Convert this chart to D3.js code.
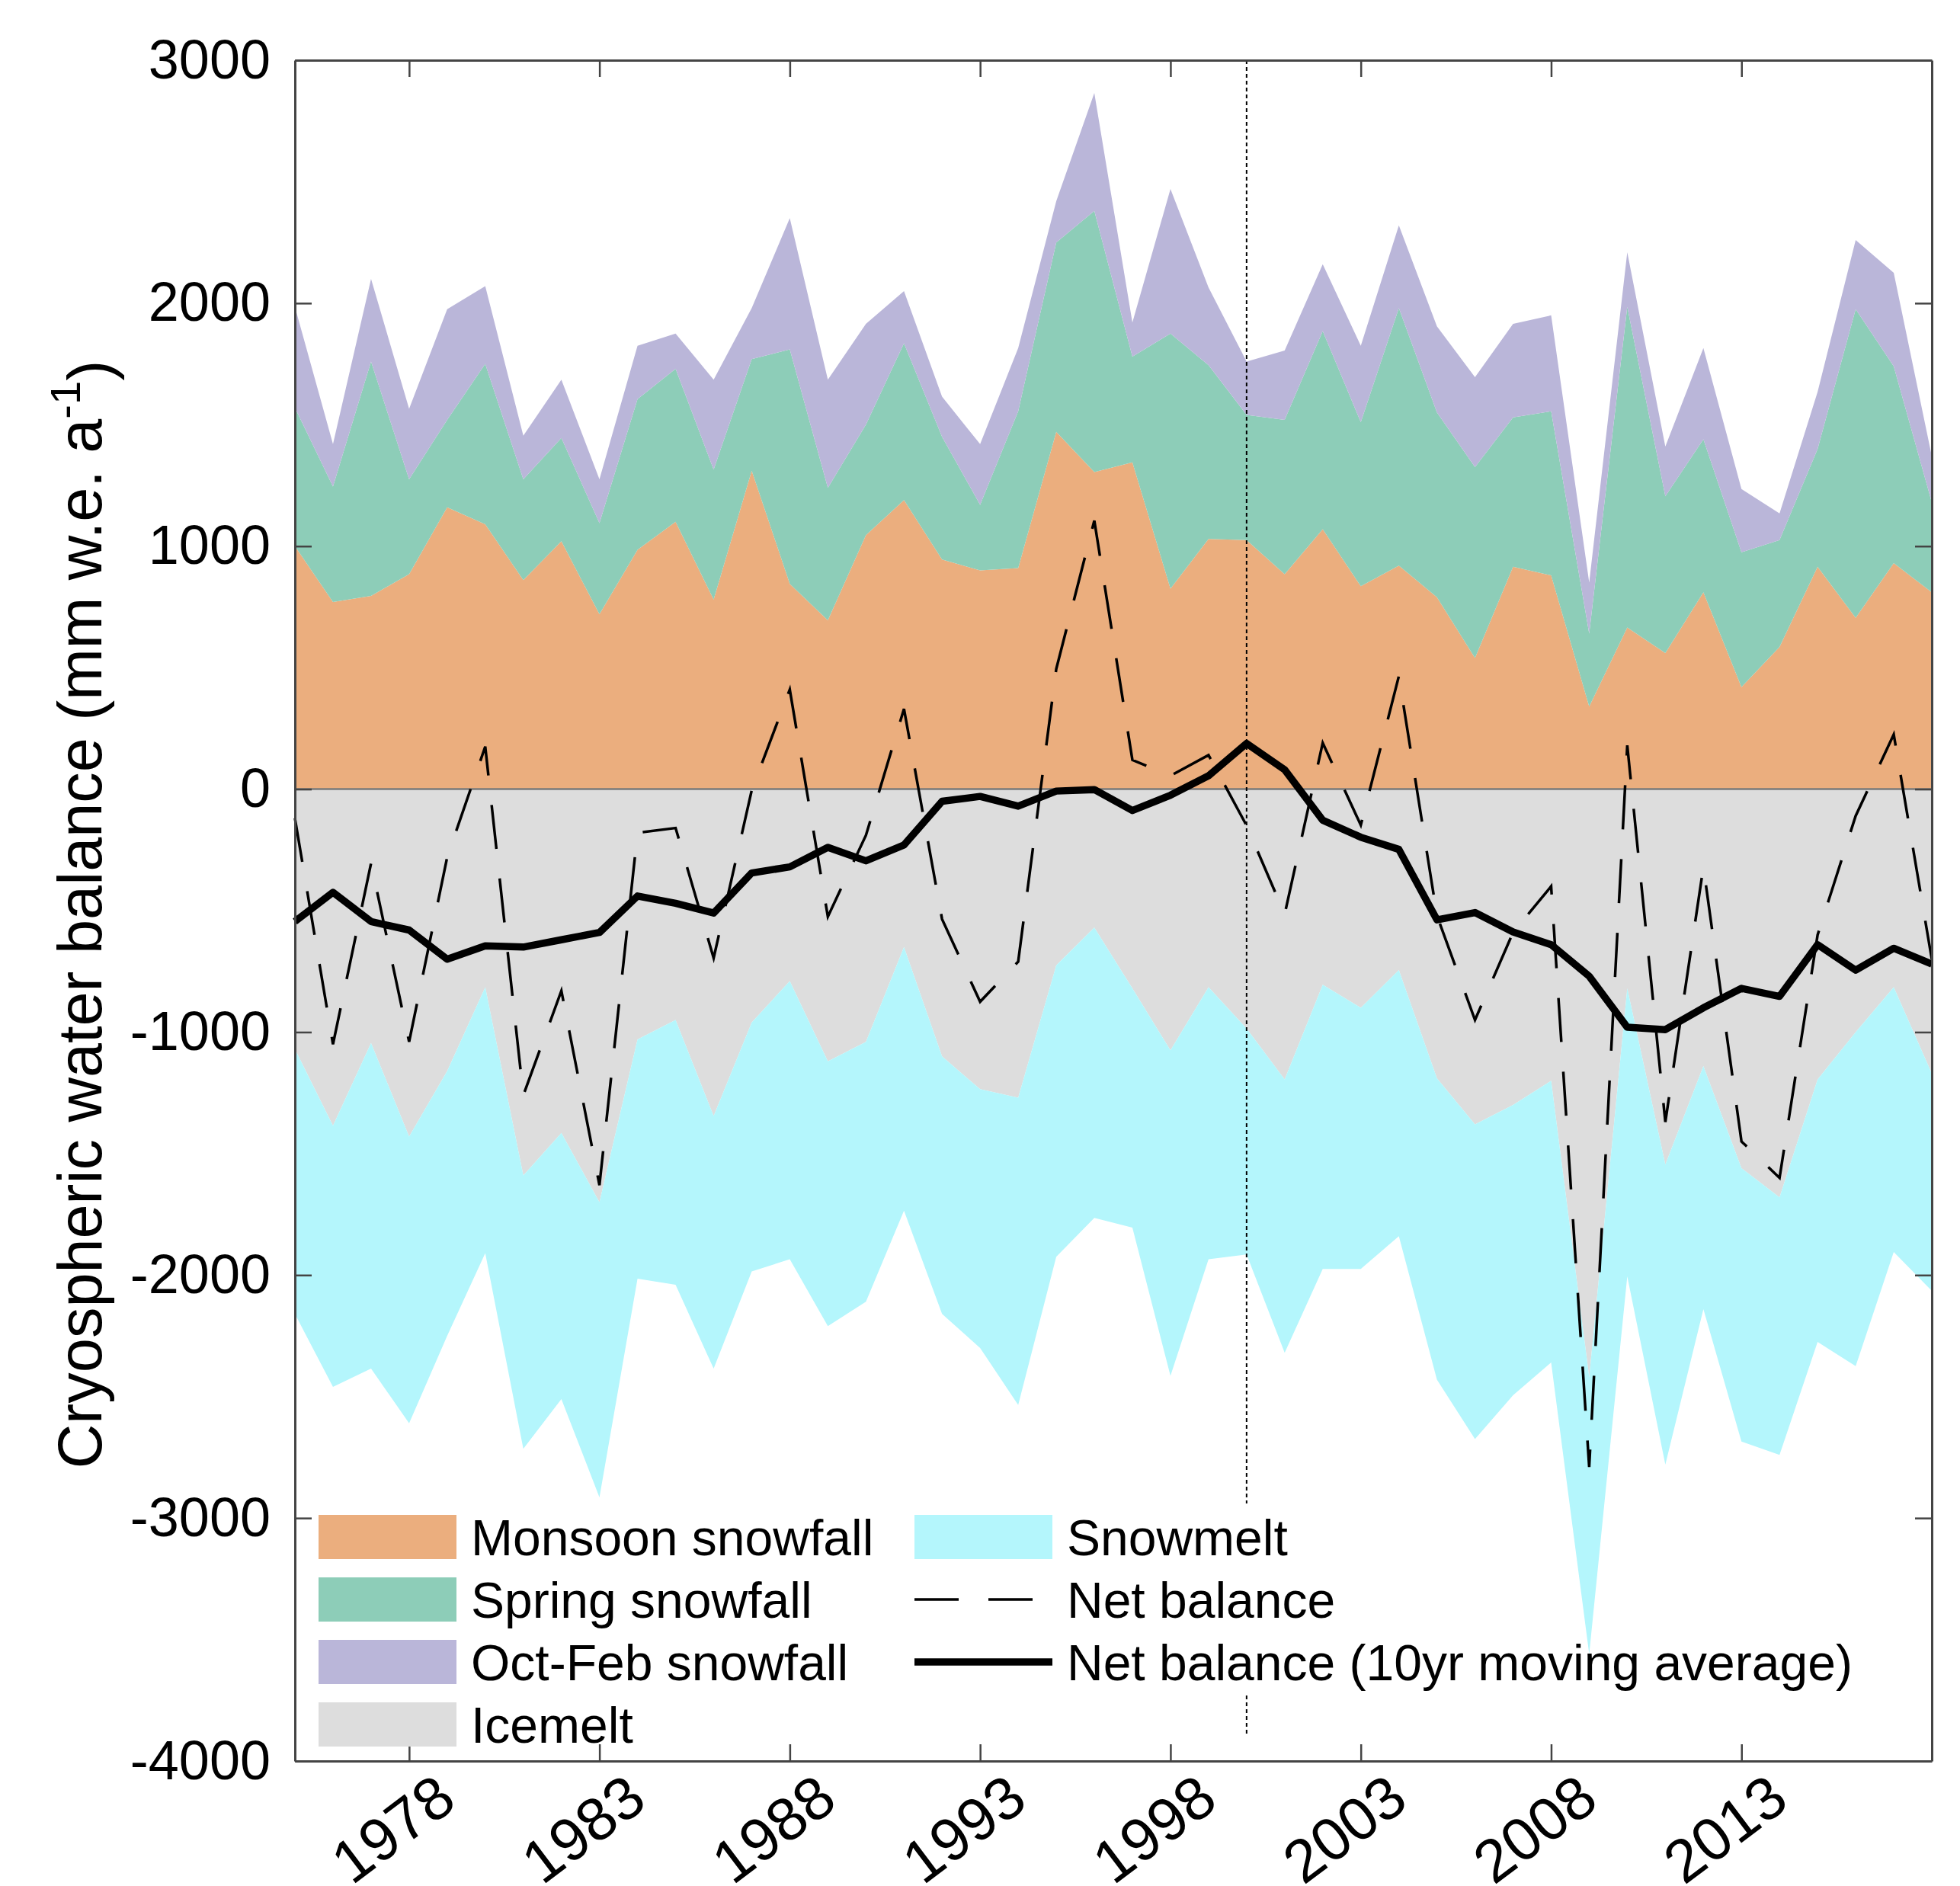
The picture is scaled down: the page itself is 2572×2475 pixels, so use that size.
<!DOCTYPE html>
<html>
<head>
<meta charset="utf-8">
<script src="https://cdn.jsdelivr.net/npm/d3@7"></script>
<style>
    body { margin: 0; background: #fff; }
    text { font-family: "Liberation Sans", Arial, Helvetica, sans-serif; fill: #000; }
</style>
</head>
<body>
<div class="chart1"></div>
<script>
// yearly cryospheric water balance components
var years = [1975, 1976, 1977, 1978, 1979, 1980, 1981, 1982, 1983, 1984,
    1985, 1986, 1987, 1988, 1989, 1990, 1991, 1992, 1993, 1994,
    1995, 1996, 1997, 1998, 1999, 2000, 2001, 2002, 2003, 2004,
    2005, 2006, 2007, 2008, 2009, 2010, 2011, 2012, 2013, 2014,
    2015, 2016, 2017, 2018];

var monsoon = [1000, 770, 795, 885, 1160, 1090, 860, 1020, 720, 985,
    1100, 780, 1310, 845, 695, 1045, 1190, 945, 900, 910,
    1470, 1305, 1345, 825, 1030, 1025, 885, 1070, 835, 920,
    790, 540, 915, 880, 340, 665, 560, 810, 420, 585,
    915, 705, 930, 810];

var spring = [570, 475, 965, 390, 360, 660, 415, 425, 375, 620,
    630, 535, 460, 965, 545, 455, 645, 505, 270, 645,
    780, 1075, 435, 1050, 715, 515, 635, 815, 675, 1060,
    760, 785, 615, 675, 300, 1320, 645, 630, 555, 440,
    485, 1270, 810, 370];

var octfeb = [415, 175, 340, 290, 455, 320, 180, 240, 180, 220,
    145, 370, 210, 540, 445, 415, 215, 165, 250, 260,
    170, 485, 140, 595, 320, 220, 285, 275, 315, 340,
    355, 370, 385, 395, 210, 225, 205, 375, 260, 110,
    235, 285, 385, 190];

var icemelt = [-1070, -1385, -1045, -1430, -1160, -815, -1590, -1415, -1700, -1030,
    -950, -1345, -960, -790, -1120, -1040, -650, -1100, -1235, -1270,
    -725, -570, -820, -1075, -815, -985, -1195, -805, -900, -745,
    -1190, -1380, -1300, -1200, -2420, -820, -1545, -1140, -1560, -1680,
    -1195, -1000, -815, -1170];

var snowmelt = [-1090, -1075, -1340, -1180, -1090, -1095, -1125, -1095, -1215, -985,
    -1090, -1040, -1025, -1145, -1090, -1070, -1085, -1060, -1065, -1265,
    -1200, -1195, -985, -1340, -1120, -930, -1125, -1170, -1075, -1095,
    -1240, -1295, -1195, -1160, -1140, -1185, -1235, -1000, -1125, -1060,
    -1080, -1375, -1090, -895];

var netBalance = [-120, -1050, -305, -1040, -280, 175, -1260, -830, -1630, -180,
    -160, -695, -5, 410, -525, -190, 330, -535, -875, -710,
    495, 1105, 120, 55, 140, -150, -515, 190, -148, 465,
    -520, -950, -590, -400, -2790, 180, -1370, -320, -1450, -1600,
    -600, -110, 225, -700];

var movingAvg = [-545, -425, -545, -580, -700, -645, -650, -620, -590, -440,
    -470, -510, -345, -320, -240, -295, -230, -50, -30, -70,
    -8, -2, -88, -25, 55, 188, 80, -128, -198, -248,
    -538, -508, -588, -640, -770, -980, -990, -900, -820, -853,
    -640, -745, -655, -720];

var keys = ["monsoon", "spring", "octfeb", "icemelt", "snowmelt"];
var labels = ["Monsoon snowfall", "Spring snowfall", "Oct-Feb snowfall", "Icemelt", "Snowmelt"];
var colors = ["#ebae7e", "#8dcdb8", "#bab6d9", "#dddddd", "#b4f6fc"];

var xTicks = [1978, 1983, 1988, 1993, 1998, 2003, 2008, 2013];
var yTicks = [3000, 2000, 1000, 0, -1000, -2000, -3000, -4000];

// dotted marker at 2000 (broken where it passes the legend)
var markerYear = 2000;
var markerSegments = [[3000, -2940], [-3730, -3890]];

var margins = { top: 79, right: 37, bottom: 164, left: 387 };
var width = 2572 - margins.left - margins.right;
var height = 2475 - margins.top - margins.bottom;

var x = d3.scaleLinear()
    .domain([1975, 2018])
    .range([0, width]);

var y = d3.scaleLinear()
    .domain([-4000, 3000])
    .range([height, 0]);

var svgRoot = d3.select(".chart1").append("svg")
    .attr("width", 2572)
    .attr("height", 2475)
    .style("background", "#fff");

var svg = svgRoot.append("g")
    .attr("transform", "translate(" + margins.left + "," + margins.top + ")");

var rows = years.map(function (yr, i) {
    return {
        year: yr,
        monsoon: monsoon[i],
        spring: spring[i],
        octfeb: octfeb[i],
        icemelt: icemelt[i],
        snowmelt: snowmelt[i]
    };
});

var series = d3.stack()
    .keys(keys)
    .offset(d3.stackOffsetDiverging)(rows);

var area = d3.area()
    .x(function (d) { return x(d.data.year); })
    .y0(function (d) { return y(d[0]); })
    .y1(function (d) { return y(d[1]); });

svg.selectAll(".layer")
    .data(series)
    .enter().append("path")
    .attr("class", "layer")
    .attr("d", area)
    .style("fill", function (d, i) { return colors[i]; });

// zero line
svg.append("line")
    .attr("x1", 0)
    .attr("x2", width)
    .attr("y1", y(0))
    .attr("y2", y(0))
    .style("stroke", "#7a7a7a")
    .style("stroke-width", 2.5);

svg.selectAll(".marker")
    .data(markerSegments)
    .enter().append("line")
    .attr("class", "marker")
    .attr("x1", x(markerYear))
    .attr("x2", x(markerYear))
    .attr("y1", function (d) { return y(d[0]); })
    .attr("y2", function (d) { return y(d[1]); })
    .style("stroke", "#000")
    .style("stroke-width", 2)
    .style("stroke-dasharray", "5,4");

var line = d3.line()
    .x(function (d, i) { return x(years[i]); })
    .y(function (d) { return y(d); });

svg.append("path")
    .datum(netBalance)
    .attr("d", line)
    .style("fill", "none")
    .style("stroke", "#000")
    .style("stroke-width", 3.5)
    .style("stroke-dasharray", "58,39");

svg.append("path")
    .datum(movingAvg)
    .attr("d", line)
    .style("fill", "none")
    .style("stroke", "#000")
    .style("stroke-width", 9.5)
    .style("stroke-linejoin", "round");

// axes, ticks pointing inward on all four sides
var axisColor = "#444";

svg.append("g")
    .attr("class", "yaxis")
    .call(d3.axisLeft(y).tickValues(yTicks).tickSize(-22).tickSizeOuter(0).tickPadding(32)
        .tickFormat(function (d) { return String(d); }));

svg.append("g")
    .attr("transform", "translate(" + width + ",0)")
    .call(d3.axisRight(y).tickValues(yTicks).tickSize(-22).tickSizeOuter(0).tickFormat(""));

svg.append("g")
    .call(d3.axisTop(x).tickValues(xTicks).tickSize(-22).tickSizeOuter(0).tickFormat(""));

var gBottom = svg.append("g")
    .attr("class", "xaxis")
    .attr("transform", "translate(0," + height + ")")
    .call(d3.axisBottom(x).tickValues(xTicks).tickSize(-22).tickSizeOuter(0).tickFormat(d3.format("d")));

svg.selectAll(".domain")
    .style("stroke", axisColor)
    .style("stroke-width", 3);
svg.selectAll(".tick line")
    .style("stroke", axisColor)
    .style("stroke-width", 2.5);
svg.selectAll(".tick text")
    .style("font-family", "'Liberation Sans', Arial, Helvetica, sans-serif")
    .style("font-size", "72px")
    .style("fill", "#000");

gBottom.selectAll("text")
    .attr("y", 0)
    .attr("dy", "0.35em")
    .attr("transform", "translate(48,36) rotate(-37)")
    .style("text-anchor", "end")
    .style("font-size", "79px");

// legend, two columns, no box
var legendItems = [
    { label: labels[0], type: "area", color: colors[0], col: 0, row: 0 },
    { label: labels[1], type: "area", color: colors[1], col: 0, row: 1 },
    { label: labels[2], type: "area", color: colors[2], col: 0, row: 2 },
    { label: labels[3], type: "area", color: colors[3], col: 0, row: 3 },
    { label: labels[4], type: "area", color: colors[4], col: 1, row: 0 },
    { label: "Net balance", type: "dash", col: 1, row: 1 },
    { label: "Net balance (10yr moving average)", type: "solid", col: 1, row: 2 }
];
var colX = [31, 813];
var rowY0 = 1938, rowStep = 82, keyW = 181, keyH = 58;

var legend = svg.selectAll(".legend")
    .data(legendItems)
    .enter().append("g")
    .attr("class", "legend")
    .attr("transform", function (d) {
        return "translate(" + colX[d.col] + "," + (rowY0 + d.row * rowStep) + ")";
    });

legend.filter(function (d) { return d.type === "area"; })
    .append("rect")
    .attr("x", 0)
    .attr("y", -keyH / 2)
    .attr("width", keyW)
    .attr("height", keyH)
    .style("fill", function (d) { return d.color; });

legend.filter(function (d) { return d.type !== "area"; })
    .append("line")
    .attr("x1", 0)
    .attr("x2", keyW)
    .style("stroke", "#000")
    .style("stroke-width", function (d) { return d.type === "solid" ? 9.5 : 3.5; })
    .style("stroke-dasharray", function (d) { return d.type === "dash" ? "58,39" : null; });

legend.append("text")
    .attr("x", keyW + 19)
    .attr("dy", "0.36em")
    .style("font-size", "66px")
    .text(function (d) { return d.label; });

// y axis title
var yTitle = svgRoot.append("text")
    .attr("transform", "translate(133,1200) rotate(-90)")
    .attr("text-anchor", "middle")
    .style("font-size", "81px");
yTitle.append("tspan").text("Cryospheric water balance (mm w.e. a");
yTitle.append("tspan").attr("dy", "-0.5em").style("font-size", "56px").text("-1");
yTitle.append("tspan").attr("dy", "0.5em").text(")");
</script>
</body>
</html>
